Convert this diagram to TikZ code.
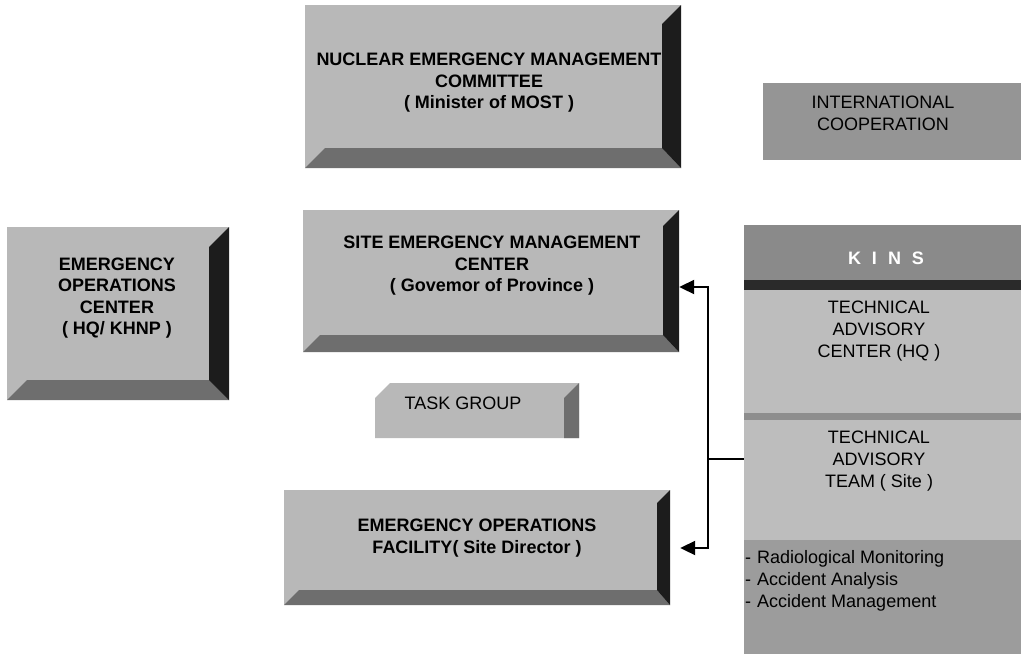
\documentclass[tikz,border=0pt]{standalone}
\usepackage{fontspec}
\setmainfont{Liberation Sans}
\usetikzlibrary{arrows.meta,fit,calc}
\definecolor{facegray}{HTML}{B8B8B8}
\definecolor{botgray}{HTML}{6E6E6E}
\definecolor{bevdark}{HTML}{1C1C1C}
\definecolor{kinshead}{HTML}{8A8A8A}
\definecolor{kinsband}{HTML}{2A2A2A}
\definecolor{kinsbody}{HTML}{BDBDBD}
\definecolor{kinsdiv}{HTML}{8E8E8E}
\definecolor{kinslist}{HTML}{9C9C9C}
\definecolor{intlgray}{HTML}{959595}
\newcommand\bevbox[7]{%
  \fill[facegray] (#2,#3) rectangle (#4,#5);
  \fill[botgray] (#2,#5) -- ({#2+#7},{#5-#7}) -- ({#4-#6},{#5-#7}) -- (#4,#5) -- cycle;
  \fill[bevdark] ({#4-#6},{#3+#6}) -- (#4,#3) -- (#4,#5) -- ({#4-#6},{#5-#7}) -- cycle;
  \node[fit={(#2,#3)(#4,#5)}, inner sep=0pt] (#1) {};%
}
\begin{document}
\begin{tikzpicture}[x=1pt,y=-1pt,
  btxt/.style={align=center, inner sep=0pt, font=\bfseries\fontsize{18}{21.5}\selectfont},
  rtxt/.style={align=center, inner sep=0pt, font=\fontsize{18}{22}\selectfont},
  conn/.style={line width=2pt, draw=black},
  tip/.style={-{Triangle[length=15pt,width=14pt]}}]
\useasboundingbox (0,0) rectangle (1021,654);
\fill[white] (0,0) rectangle (1021,654);

% Nuclear Emergency Management Committee
\bevbox{nemc}{305}{5}{681}{168}{19}{20}
\node[btxt] (nemct) at (489,83) {NUCLEAR EMERGENCY MANAGEMENT\\COMMITTEE\\( Minister of MOST )};

% International cooperation
\fill[intlgray] (763,83) rectangle (1021,160);
\node[fit={(763,83)(1021,160)}, inner sep=0pt] (intl) {};
\node[rtxt] (intlt) at (883,113) {INTERNATIONAL\\COOPERATION};

% Emergency operations center
\bevbox{eoc}{7}{227}{229}{400}{20}{20}
\node[btxt] (eoct) at (117,298) {EMERGENCY\\OPERATIONS\\CENTER\\( HQ/ KHNP )};

% Site emergency management center
\bevbox{semc}{303}{210}{679}{352}{16}{17}
\node[btxt] (semct) at (492,266) {SITE EMERGENCY MANAGEMENT\\CENTER\\( Govemor of Province )};

% Task group
\fill[facegray] (375,398) -- (390,383) -- (579,383) -- (579,438) -- (375,438) -- cycle;
\fill[botgray] (564,398) -- (579,383) -- (579,438) -- (564,438) -- cycle;
\node[fit={(375,383)(579,438)}, inner sep=0pt] (task) {};
\node[rtxt] (taskt) at (463,403) {TASK GROUP};

% Emergency operations facility
\bevbox{eof}{284}{490}{670}{605}{13}{15}
\node[btxt] (eoft) at (477,538) {EMERGENCY OPERATIONS\\FACILITY( Site Director )};

% KINS column
\fill[kinshead] (744,225) rectangle (1021,280);
\fill[kinsband] (744,280) rectangle (1021,290);
\fill[kinsbody] (744,290) rectangle (1021,413);
\fill[kinsdiv] (744,413) rectangle (1021,420);
\fill[kinsbody] (744,420) rectangle (1021,540);
\fill[kinslist] (744,540) rectangle (1021,654);
\node[fit={(744,225)(1021,280)}, inner sep=0pt] (kins) {};
\node[fit={(744,290)(1021,413)}, inner sep=0pt] (tac) {};
\node[fit={(744,420)(1021,540)}, inner sep=0pt] (tat) {};
\node[fit={(744,540)(1021,654)}, inner sep=0pt] (tasks) {};
\node[btxt, text=white] (kinst) at (886,258) {K\hspace{11pt}I\hspace{11pt}N\hspace{11pt}S};
\node[rtxt] (tact) at (879,331) {TECHNICAL\\ADVISORY\\CENTER (HQ )};
\node[rtxt] (tatt) at (879,461) {TECHNICAL\\ADVISORY\\TEAM ( Site )};
\node[rtxt, align=left, anchor=west] (taskst) at (745,581)
  {-\hspace{6pt}Radiological Monitoring\\-\hspace{6pt}Accident Analysis\\-\hspace{6pt}Accident Management};

% Connectors
\coordinate (j) at (708,459);
\coordinate (ys) at (0,287);
\coordinate (yf) at (0,548);
\draw[conn] (tat.west |- j) -- (j);
\draw[conn, tip] (j) |- (semc.east |- ys);
\draw[conn, tip] (j) |- ([xshift=10pt]eof.east |- yf);
\end{tikzpicture}
\end{document}
